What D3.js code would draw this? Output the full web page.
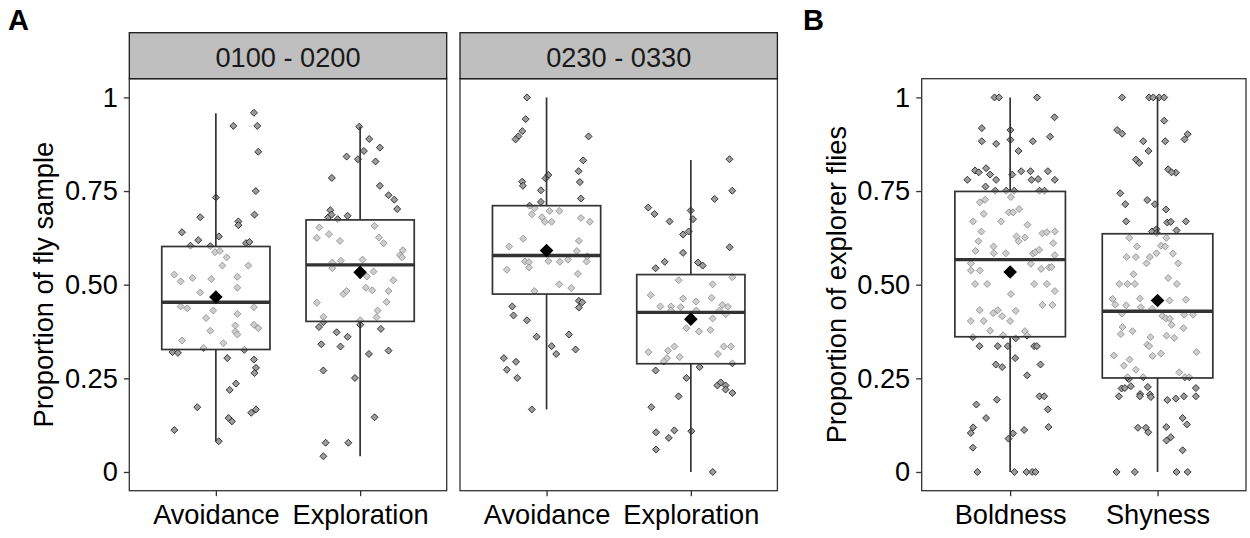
<!DOCTYPE html>
<html>
<head>
<meta charset="utf-8">
<script src="https://cdn.jsdelivr.net/npm/d3@7"></script>
<style>
  body { margin: 0; background: #fff; }
  svg { display: block; font-family: "Liberation Sans", Arial, sans-serif; }
</style>
</head>
<body>
<svg id="chart" width="1250" height="538"></svg>
<script>
// ---- Data ----------------------------------------------------------
const facetLabels = ["0100 - 0200", "0230 - 0330"];
const responseCats = ["Avoidance", "Exploration"];
const personalityCats = ["Boldness", "Shyness"];
const yTicks = [0, 0.25, 0.5, 0.75, 1];
const yTickLabels = ["0", "0.25", "0.50", "0.75", "1"];
const titleA = "Proportion of fly sample";
const titleB = "Proportion of explorer flies";

// Box summaries: [lower whisker, Q1, median, Q3, upper whisker, mean]
const earlyAvoidBox   = [0.082, 0.327, 0.453, 0.602, 0.958, 0.467];
const earlyExploreBox = [0.042, 0.402, 0.553, 0.673, 0.922, 0.533];
const lateAvoidBox    = [0.167, 0.475, 0.578, 0.711, 1.000, 0.591];
const lateExploreBox  = [0.000, 0.289, 0.426, 0.527, 0.833, 0.408];
const boldBox         = [0.000, 0.361, 0.567, 0.749, 1.000, 0.534];
const shyBox          = [0.000, 0.251, 0.429, 0.636, 1.000, 0.458];

// Individual observations: [horizontal jitter (category units), proportion]
const earlyAvoidPts = [
  [0.264,0.959],[0.121,0.924],[0.287,0.924],[0.294,0.855],[0.277,0.750],[0.000,0.733],
  [0.268,0.687],[-0.108,0.680],[0.156,0.669],[0.156,0.659],[-0.235,0.640],[0.021,0.629],
  [-0.122,0.619],[-0.176,0.604],[-0.039,0.603],[0.209,0.611],[0.232,0.614],[-0.006,0.587],
  [0.028,0.590],[0.075,0.573],[0.045,0.551],[0.225,0.551],[-0.288,0.527],[-0.244,0.509],
  [-0.161,0.518],[-0.032,0.515],[0.149,0.521],[0.149,0.492],[-0.108,0.479],[-0.244,0.442],
  [-0.198,0.437],[-0.018,0.431],[0.264,0.440],[-0.068,0.411],[0.149,0.422],[0.135,0.391],
  [0.264,0.393],[0.294,0.384],[-0.039,0.377],[0.135,0.375],[0.149,0.367],[-0.235,0.351],
  [0.052,0.344],[-0.085,0.331],[0.197,0.326],[-0.300,0.320],[-0.263,0.318],[0.079,0.304],
  [0.264,0.300],[0.278,0.278],[0.268,0.264],[0.139,0.236],[0.096,0.219],[-0.129,0.173],
  [0.278,0.167],[0.245,0.158],[0.088,0.144],[0.111,0.135],[-0.288,0.112],[0.020,0.082]
];
const earlyExplorePts = [
  [-0.006,0.922],[0.063,0.889],[0.137,0.866],[0.026,0.857],[-0.094,0.842],[-0.015,0.835],
  [0.107,0.829],[-0.196,0.785],[0.137,0.764],[0.197,0.739],[0.237,0.727],[0.257,0.702],
  [-0.207,0.699],[-0.221,0.680],[-0.198,0.687],[-0.156,0.675],[-0.087,0.684],[-0.283,0.653],
  [0.100,0.657],[-0.300,0.625],[-0.216,0.635],[-0.140,0.617],[0.130,0.626],[0.163,0.611],
  [0.296,0.592],[0.276,0.579],[0.290,0.573],[-0.193,0.559],[-0.193,0.544],[-0.133,0.564],
  [0.017,0.567],[0.093,0.535],[0.047,0.522],[0.230,0.512],[0.040,0.492],[0.084,0.485],
  [0.197,0.483],[-0.117,0.475],[-0.094,0.483],[-0.300,0.452],[0.183,0.454],[0.121,0.431],
  [0.114,0.413],[-0.255,0.414],[-0.255,0.400],[-0.285,0.387],[0.001,0.405],[0.001,0.393],
  [0.144,0.382],[-0.163,0.373],[-0.087,0.361],[-0.269,0.341],[-0.136,0.335],[0.061,0.315],
  [0.197,0.324],[-0.255,0.271],[-0.036,0.251],[0.100,0.146],[-0.239,0.078],[-0.082,0.078],
  [-0.255,0.042]
];
const lateAvoidPts = [
  [-0.136,1.000],[-0.145,0.942],[-0.168,0.910],[-0.196,0.896],[-0.215,0.888],[0.291,0.896],
  [0.254,0.832],[0.222,0.803],[0.012,0.793],[-0.007,0.784],[-0.169,0.775],[-0.164,0.764],
  [0.231,0.774],[-0.039,0.752],[0.238,0.730],[-0.039,0.721],[-0.118,0.711],[-0.083,0.704],
  [-0.102,0.688],[0.021,0.697],[0.088,0.697],[-0.032,0.680],[-0.012,0.668],[0.035,0.668],
  [0.238,0.678],[0.300,0.668],[-0.162,0.623],[-0.259,0.602],[0.224,0.617],[0.210,0.590],
  [-0.150,0.562],[-0.122,0.560],[-0.122,0.546],[0.012,0.563],[0.092,0.561],[0.148,0.567],
  [0.277,0.562],[0.282,0.576],[-0.275,0.540],[0.217,0.529],[0.088,0.501],[0.171,0.491],
  [-0.085,0.483],[0.224,0.457],[0.247,0.453],[0.224,0.439],[-0.238,0.442],[-0.229,0.418],
  [-0.136,0.405],[-0.069,0.361],[0.155,0.367],[0.035,0.336],[0.067,0.315],[0.201,0.327],
  [-0.296,0.304],[-0.212,0.294],[-0.275,0.273],[-0.203,0.251],[-0.102,0.167]
];
const lateExplorePts = [
  [0.268,0.835],[0.287,0.751],[0.165,0.729],[-0.295,0.706],[-0.252,0.689],[-0.147,0.669],
  [-0.001,0.698],[0.015,0.675],[-0.015,0.642],[-0.054,0.634],[0.269,0.600],[-0.054,0.585],
  [-0.181,0.561],[-0.244,0.544],[0.050,0.559],[0.082,0.551],[-0.084,0.512],[0.151,0.501],
  [0.287,0.520],[-0.278,0.472],[-0.054,0.463],[0.036,0.455],[0.144,0.465],[-0.211,0.442],
  [-0.137,0.442],[-0.070,0.440],[-0.137,0.431],[0.218,0.446],[0.257,0.441],[0.198,0.431],
  [0.241,0.421],[0.038,0.431],[0.151,0.410],[-0.031,0.384],[0.057,0.375],[0.135,0.379],
  [-0.294,0.320],[-0.158,0.324],[-0.114,0.335],[-0.165,0.304],[-0.188,0.295],[-0.077,0.307],
  [0.188,0.315],[0.228,0.335],[0.278,0.335],[0.288,0.290],[-0.244,0.271],[0.061,0.280],
  [-0.031,0.251],[0.184,0.231],[0.207,0.239],[0.241,0.231],[0.241,0.220],[0.288,0.211],
  [-0.085,0.202],[-0.274,0.173],[-0.241,0.106],[-0.114,0.111],[-0.153,0.091],[0.003,0.109],
  [-0.241,0.060],[0.152,0.000]
];
const boldPts = [
  [-0.106,1],[-0.075,1],[0.183,1],[0.301,0.947],[-0.192,0.918],[0.002,0.913],
  [-0.192,0.883],[-0.095,0.876],[0.002,0.887],[0.057,0.857],[0.154,0.883],[0.271,0.895],
  [-0.238,0.805],[-0.213,0.800],[-0.163,0.811],[-0.136,0.794],[-0.095,0.780],[-0.290,0.780],
  [-0.167,0.762],[0.014,0.794],[0.075,0.803],[0.138,0.803],[0.145,0.780],[0.190,0.782],
  [0.256,0.803],[0.303,0.780],[-0.102,0.751],[-0.027,0.751],[0.027,0.751],[0.199,0.751],
  [0.233,0.751],[0.005,0.734],[-0.206,0.720],[-0.170,0.727],[-0.179,0.689],[-0.009,0.693],
  [0.020,0.693],[0.061,0.702],[-0.251,0.669],[-0.061,0.669],[0.118,0.660],[-0.195,0.642],
  [0.043,0.629],[0.057,0.616],[0.100,0.626],[0.219,0.637],[0.249,0.640],[0.303,0.642],
  [-0.215,0.616],[0.292,0.611],[-0.113,0.602],[-0.235,0.590],[-0.111,0.584],[-0.029,0.584],
  [0.154,0.583],[0.170,0.587],[0.197,0.593],[0.303,0.579],[-0.267,0.557],[-0.267,0.538],
  [-0.206,0.538],[0.140,0.556],[0.210,0.542],[0.265,0.546],[0.281,0.547],[-0.238,0.502],
  [-0.156,0.502],[0.163,0.502],[0.249,0.502],[0.303,0.483],[0.005,0.475],[0.219,0.446],
  [0.287,0.446],[-0.206,0.432],[-0.084,0.432],[-0.115,0.424],[-0.054,0.416],[0.038,0.430],
  [-0.267,0.403],[-0.179,0.403],[0.000,0.403],[-0.136,0.377],[-0.048,0.365],[0.100,0.376],
  [0.115,0.364],[-0.253,0.360],[0.038,0.357],[-0.208,0.336],[-0.084,0.336],[-0.016,0.336],
  [0.163,0.336],[0.181,0.336],[0.034,0.304],[-0.097,0.287],[-0.054,0.280],[0.206,0.287],
  [0.115,0.258],[0.199,0.202],[0.231,0.202],[-0.090,0.193],[-0.229,0.180],[0.256,0.167],
  [-0.163,0.144],[0.260,0.120],[-0.251,0.119],[-0.267,0.104],[0.095,0.112],[0.020,0.103],
  [-0.011,0.089],[-0.253,0.065],[-0.222,0],[0.029,0],[0.111,0],[0.149,0],[0.172,0]
];
const shyPts = [
  [-0.240,1],[-0.057,1],[-0.029,1],[0.011,1],[0.045,1],[0.045,0.938],
  [-0.274,0.913],[-0.240,0.903],[-0.097,0.883],[0.052,0.883],[0.183,0.888],[0.204,0.902],
  [-0.061,0.857],[-0.147,0.834],[-0.124,0.825],[0.072,0.808],[0.124,0.799],[0.095,0.800],
  [-0.253,0.744],[-0.219,0.715],[-0.070,0.726],[-0.018,0.715],[0.057,0.701],[-0.213,0.669],
  [-0.038,0.642],[-0.007,0.648],[0.066,0.666],[0.090,0.668],[0.192,0.669],[0.129,0.645],
  [-0.005,0.638],[-0.192,0.625],[0.059,0.625],[-0.140,0.602],[0.023,0.604],[0.052,0.602],
  [-0.210,0.574],[-0.147,0.574],[-0.052,0.574],[-0.007,0.584],[0.104,0.583],[-0.075,0.557],
  [0.140,0.557],[-0.163,0.528],[-0.260,0.502],[-0.204,0.502],[-0.154,0.502],[0.072,0.518],
  [0.131,0.502],[-0.305,0.462],[-0.287,0.447],[-0.213,0.445],[-0.120,0.463],[-0.113,0.440],
  [-0.036,0.436],[-0.002,0.462],[0.081,0.458],[0.192,0.460],[-0.242,0.423],[0.032,0.417],
  [0.057,0.410],[0.084,0.409],[0.181,0.420],[0.240,0.420],[0.095,0.393],[-0.238,0.387],
  [-0.249,0.368],[-0.170,0.376],[0.176,0.384],[-0.048,0.360],[-0.070,0.340],[-0.057,0.336],
  [-0.034,0.310],[0.023,0.316],[0.061,0.364],[0.113,0.358],[0.265,0.320],[-0.296,0.311],
  [-0.229,0.284],[-0.190,0.300],[-0.147,0.273],[0.147,0.266],[-0.195,0.248],[-0.204,0.253],
  [-0.097,0.253],[0.186,0.253],[0.215,0.253],[-0.262,0.202],[-0.244,0.223],[-0.222,0.224],
  [-0.181,0.229],[-0.118,0.208],[-0.120,0.202],[-0.066,0.227],[-0.052,0.207],[-0.045,0.200],
  [0.066,0.192],[0.124,0.196],[0.179,0.202],[0.260,0.202],[0.260,0.224],[-0.133,0.118],
  [-0.079,0.118],[-0.063,0.106],[0.059,0.120],[0.170,0.144],[0.199,0.127],[0.090,0.093],
  [0.061,0.084],[0.170,0.058],[-0.278,0],[-0.154,0],[0.129,0],[0.204,0]
];

// ---- Layout ----------------------------------------------------------
const svg = d3.select("#chart");
const FONT = 27.2;
const panelTop = 78.7, panelBottom = 490.7;
const stripTop = 32.7;
const y = d3.scaleLinear().domain([-0.05, 1.05]).range([panelBottom, panelTop]);

const panels = [
  { x0: 129.3, x1: 446.7, cats: responseCats, strip: facetLabels[0], yAxis: true,
    groups: [{ box: earlyAvoidBox, pts: earlyAvoidPts }, { box: earlyExploreBox, pts: earlyExplorePts }] },
  { x0: 460.0, x1: 777.4, cats: responseCats, strip: facetLabels[1], yAxis: false,
    groups: [{ box: lateAvoidBox, pts: lateAvoidPts }, { box: lateExploreBox, pts: lateExplorePts }] },
  { x0: 921.7, x1: 1246.0, cats: personalityCats, strip: null, yAxis: true,
    groups: [{ box: boldBox, pts: boldPts }, { box: shyBox, pts: shyPts }] }
];

// square rotated by 45 degrees (ggplot shape 23)
const diamond = r => `M0,${-r}L${r},0L0,${r}L${-r},0Z`;
const INK = "#333333";

panels.forEach(p => {
  // continuous x over category indices 1..n, expanded 0.6 each side
  const x = d3.scaleLinear().domain([0.4, p.cats.length + 0.6]).range([p.x0, p.x1]);
  const g = svg.append("g");

  // panel background
  g.append("rect").attr("x", p.x0).attr("y", panelTop)
    .attr("width", p.x1 - p.x0).attr("height", panelBottom - panelTop).attr("fill", "#fff");

  p.groups.forEach((grp, i) => {
    const c = i + 1;
    const [lo, q1, med, q3, hi, mean] = grp.box;
    const hw = 0.375;

    // jittered observations
    g.append("g").selectAll("path").data(grp.pts).join("path")
      .attr("transform", d => `translate(${x(c + d[0])},${y(d[1])})`)
      .attr("d", diamond(3.5))
      .attr("fill", "#9c9c9c")
      .attr("stroke", "#111")
      .attr("stroke-width", 0.8);

    // whiskers
    g.append("line").attr("x1", x(c)).attr("x2", x(c)).attr("y1", y(q3)).attr("y2", y(hi))
      .attr("stroke", INK).attr("stroke-width", 1.7);
    g.append("line").attr("x1", x(c)).attr("x2", x(c)).attr("y1", y(q1)).attr("y2", y(lo))
      .attr("stroke", INK).attr("stroke-width", 1.7);

    // box with translucent white fill
    g.append("rect").attr("x", x(c - hw)).attr("y", y(q3))
      .attr("width", x(c + hw) - x(c - hw)).attr("height", y(q1) - y(q3))
      .attr("fill", "#fff").attr("fill-opacity", 0.5)
      .attr("stroke", INK).attr("stroke-width", 1.7);

    // median
    g.append("line").attr("x1", x(c - hw)).attr("x2", x(c + hw)).attr("y1", y(med)).attr("y2", y(med))
      .attr("stroke", INK).attr("stroke-width", 3.4);

    // mean
    g.append("path").attr("transform", `translate(${x(c)},${y(mean)})`)
      .attr("d", diamond(6.8)).attr("fill", "#000");
  });

  // panel border
  g.append("rect").attr("x", p.x0).attr("y", panelTop)
    .attr("width", p.x1 - p.x0).attr("height", panelBottom - panelTop)
    .attr("fill", "none").attr("stroke", INK).attr("stroke-width", 1.3);

  // x axis
  const xa = g.append("g").attr("transform", `translate(0,${panelBottom})`)
    .call(d3.axisBottom(x).tickValues(p.cats.map((_, i) => i + 1))
      .tickFormat(d => p.cats[d - 1]).tickSize(5.5).tickPadding(9));
  xa.select(".domain").remove();
  xa.selectAll("line").attr("stroke", INK).attr("stroke-width", 1.3);
  xa.selectAll("text").attr("font-size", FONT).attr("fill", "#000")
    .attr("font-family", "Liberation Sans, Arial, sans-serif");

  // y axis
  if (p.yAxis) {
    const ya = g.append("g").attr("transform", `translate(${p.x0},0)`)
      .call(d3.axisLeft(y).tickValues(yTicks).tickFormat((d, i) => yTickLabels[i])
        .tickSize(5.5).tickPadding(6));
    ya.select(".domain").remove();
    ya.selectAll("line").attr("stroke", INK).attr("stroke-width", 1.3);
    ya.selectAll("text").attr("font-size", FONT).attr("fill", "#000")
      .attr("font-family", "Liberation Sans, Arial, sans-serif");
  }

  // facet strip
  if (p.strip) {
    g.append("rect").attr("x", p.x0).attr("y", stripTop)
      .attr("width", p.x1 - p.x0).attr("height", panelTop - stripTop)
      .attr("fill", "#bfbfbf").attr("stroke", "#1a1a1a").attr("stroke-width", 1.3);
    g.append("text").attr("x", (p.x0 + p.x1) / 2).attr("y", 66.5)
      .attr("text-anchor", "middle").attr("font-size", FONT).attr("fill", "#1a1a1a")
      .text(p.strip);
  }
});

// axis titles
const midY = (panelTop + panelBottom) / 2;
svg.append("text").attr("transform", `translate(53,${midY}) rotate(-90)`)
  .attr("text-anchor", "middle").attr("font-size", FONT).attr("fill", "#000").text(titleA);
svg.append("text").attr("transform", `translate(846,${midY}) rotate(-90)`)
  .attr("text-anchor", "middle").attr("font-size", FONT).attr("fill", "#000").text(titleB);

// figure tags
svg.append("text").attr("x", 8).attr("y", 30).attr("font-size", 29).attr("font-weight", "bold").text("A");
svg.append("text").attr("x", 803).attr("y", 30).attr("font-size", 29).attr("font-weight", "bold").text("B");
</script>
</body>
</html>
